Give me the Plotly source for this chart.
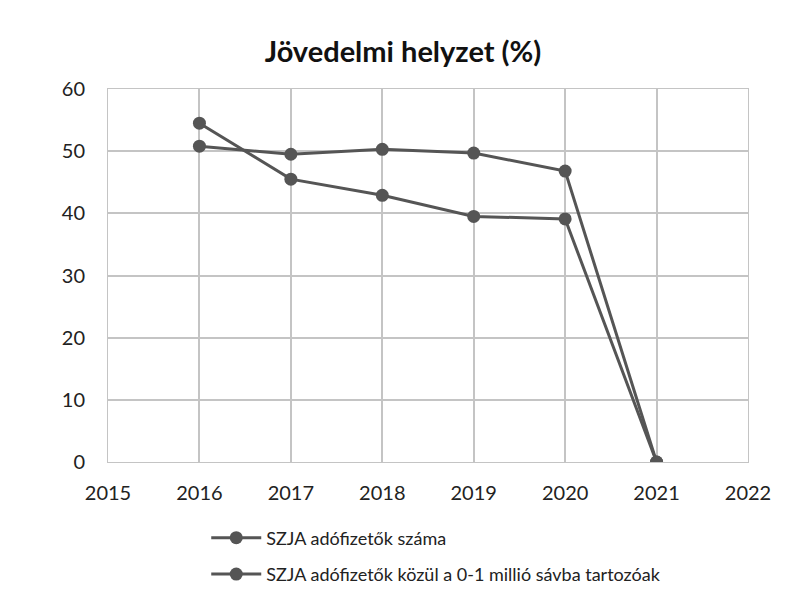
import plotly.graph_objects as go

years = [2016, 2017, 2018, 2019, 2020, 2021]
szja_adofizetok = [50.8, 49.5, 50.3, 49.7, 46.8, 0]
szja_0_1_millio = [54.5, 45.5, 42.9, 39.5, 39.1, 0]
series_names = ["SZJA adófizetők száma", "SZJA adófizetők közül a 0-1 millió sávba tartozóak"]
x_ticks = [2015, 2016, 2017, 2018, 2019, 2020, 2021, 2022]
y_ticks = [0, 10, 20, 30, 40, 50, 60]

line_color = "#555555"

fig = go.Figure()
for i, (name, vals) in enumerate(zip(series_names, [szja_adofizetok, szja_0_1_millio])):
    fig.add_trace(go.Scatter(
        x=years, y=vals, name=name, mode="lines+markers",
        line=dict(color=line_color, width=3),
        marker=dict(color=line_color, size=13),
        legendgroup=f"g{i}",
    ))

fig.update_layout(
    width=790, height=589,
    margin=dict(l=100, r=50, t=81, b=135, autoexpand=False),
    paper_bgcolor="white", plot_bgcolor="white",
    font=dict(family="Lato, Open Sans, sans-serif", color="#222222"),
    title=dict(text="<b>Jövedelmi helyzet (%)</b>", x=0.5, xanchor="center",
               y=1 - 44 / 589, yanchor="middle", font=dict(size=29, color="#111111")),
    xaxis=dict(range=[2015, 2022], tickvals=x_ticks, showgrid=True,
               gridcolor="#c4c4c4", gridwidth=1.5, zeroline=False,
               showline=True, linecolor="#c4c4c4", mirror=True,
               tickfont=dict(size=20), ticks="", ticklabelstandoff=13),
    yaxis=dict(range=[0, 60], tickvals=y_ticks, showgrid=True,
               gridcolor="#c4c4c4", gridwidth=1.5, zeroline=False,
               showline=True, linecolor="#c4c4c4", mirror=True,
               tickfont=dict(size=20), ticks="", ticklabelstandoff=18),
    showlegend=True,
    legend=dict(x=0.1535, xanchor="left", y=-0.154, yanchor="top",
                font=dict(size=18), tracegroupgap=10, itemwidth=50,
                bgcolor="rgba(0,0,0,0)"),
)

fig.write_html("out.html")
